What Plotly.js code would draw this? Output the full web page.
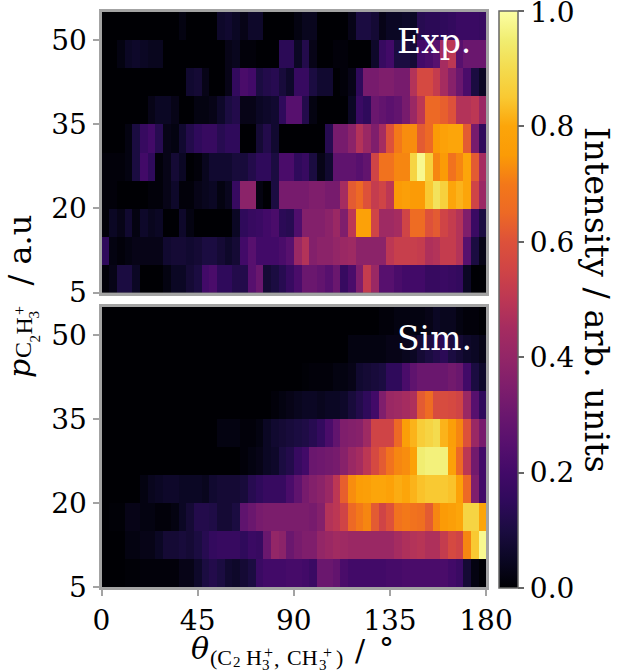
<!DOCTYPE html>
<html><head><meta charset="utf-8">
<script src="https://cdn.plot.ly/plotly-3.0.1.min.js"></script>
<style>html,body{margin:0;padding:0;background:#fff}#c{width:626px;height:672px}</style>
</head><body><div id="c"></div>
<script>
const thetaEdges = Array.from({length:51},(_,i)=>i*3.6);
const pEdges = [5,10,15,20,25,30,35,40,45,50,55];
const xTicks = [0,45,90,135,180];
const yTicks = [5,20,35,50];
const cbTicks = [0,0.2,0.4,0.6,0.8];
const cbLabels = ['0.0','0.2','0.4','0.6','0.8'];
const cbTopLabel = '1.0';
const expRow1 = [.01,.03,.1,.1,.05,0,0,0,.02,.05,.05,.08,.1,.2,.22,.15,.15,.12,.12,.25,.3,.08,.1,.13,.17,.22,.3,.3,.28,.25,.3,.17,.22,.35,.52,.42,.25,.25,.22,.2,.2,.2,.17,.17,.18,.17,.16,.05,0,0];
const expRow2 = [.15,.02,.01,.02,.03,.03,.03,.03,.07,.08,.08,.07,.08,.1,.1,.08,.06,.08,.2,.25,.2,.2,.2,.22,.25,.42,.48,.36,.38,.38,.4,.42,.43,.38,.38,.38,.38,.5,.53,.53,.53,.52,.47,.48,.52,.52,.48,.25,.1,.03];
const expRow3 = [.01,.05,.03,.07,.02,.06,.04,.05,0,0,.06,.02,0,0,0,0,0,.05,.15,.17,.18,.2,.22,.14,.13,.23,.36,.36,.36,.38,.42,.35,.5,.78,.78,.55,.43,.43,.45,.55,.66,.66,.6,.62,.55,.52,.48,.35,.18,.1];
const expRow4 = [.01,.01,0,0,0,0,.01,.01,.03,.06,.01,.01,.03,.04,.05,.02,.04,.17,.38,.38,.02,0,.1,.33,.33,.33,.33,.35,.35,.33,.33,.45,.62,.65,.6,.52,.55,.5,.75,.77,.75,.75,.85,.92,.87,.8,.82,.8,.55,.42];
const expRow5 = [.01,.01,.01,.02,.1,.2,.15,.01,.03,.08,.05,0,.01,.04,.07,.07,.07,.09,.09,.12,.15,.15,.1,.22,.22,.15,.17,.1,.03,.07,.27,.27,.27,.25,.28,.55,.68,.68,.72,.72,.88,.98,.87,.72,.75,.68,.72,.8,.62,.45];
const expRow6 = [0,0,0,.02,.1,.17,.2,.13,.03,.02,.07,.12,.15,.17,.17,.13,.15,.15,0,0,.08,.12,.07,0,0,0,0,0,0,.13,.33,.33,.38,.48,.42,.35,.45,.6,.7,.73,.73,.62,.65,.75,.78,.8,.8,.62,.33,.15];
const expRow7 = [0,0,0,0,0,0,.03,.05,.05,.03,0,0,.02,.02,.03,.06,.1,.12,.03,.03,.05,.06,.07,.15,.25,.25,.12,.02,0,0,0,0,.05,.18,.15,.3,.28,.26,.28,.33,.42,.5,.65,.65,.63,.6,.48,.48,.5,.42];
const expRow8 = [0,0,0,0,0,0,0,0,0,0,0,.07,.08,.03,0,0,.03,.16,.22,.2,.1,.12,.13,.09,.06,.17,.17,.1,.07,.07,0,.01,.03,.15,.33,.33,.35,.35,.33,.33,.48,.57,.57,.52,.45,.37,.3,.22,.1,.05];
const expRow9 = [0,0,.02,.05,.06,.05,.04,.04,0,0,0,0,0,0,0,0,.03,.04,.01,.01,0,0,0,.14,.14,.05,.12,.03,0,0,.01,.01,0,0,0,.06,.17,.2,.1,.1,.08,.2,.22,.25,.45,.5,.25,.3,.3,.3];
const expRow10 = [0,0,0,0,0,0,0,0,0,0,.02,0,0,0,0,.06,.07,.05,.03,.06,.06,0,0,0,0,.02,.04,.04,0,0,0,0,.03,.1,.1,.08,.03,.05,.05,.06,.05,.13,.14,.14,.15,.16,.18,.18,.18,.17];
const simRow1 = [0,0,0,.005,.005,.01,.01,.01,.01,.01,.03,.03,.06,.1,.12,.1,.07,.06,.08,.1,.18,.2,.2,.2,.21,.21,.2,.18,.3,.3,.28,.22,.2,.2,.2,.2,.2,.21,.21,.22,.22,.22,.22,.22,.22,.2,.18,.08,.02,0];
const simRow2 = [0,0,0,.02,.02,.03,.03,.05,.08,.08,.09,.08,.1,.13,.16,.17,.17,.17,.15,.18,.17,.3,.4,.38,.3,.33,.35,.35,.4,.42,.44,.43,.42,.42,.42,.42,.42,.42,.45,.47,.48,.49,.47,.47,.52,.57,.55,.72,.85,.98];
const simRow3 = [0,.005,.005,.03,.03,.02,.02,.01,.01,.02,.05,.08,.12,.12,.11,.08,.08,.1,.27,.3,.33,.34,.34,.34,.34,.34,.34,.33,.36,.48,.5,.55,.65,.7,.72,.62,.55,.6,.68,.7,.68,.67,.62,.72,.75,.77,.8,.88,.88,.8];
const simRow4 = [0,0,0,0,0,.02,.04,.05,.06,.06,.05,.05,.05,.04,.07,.08,.08,.08,.09,.13,.15,.17,.17,.17,.22,.27,.33,.36,.38,.42,.5,.63,.73,.76,.77,.8,.8,.78,.81,.8,.82,.84,.85,.85,.85,.84,.78,.65,.35,.2];
const simRow5 = [0,0,0,0,0,0,0,0,0,0,0,0,0,0,0,0,0,0,.01,.02,.03,.05,.06,.1,.12,.17,.2,.3,.31,.32,.33,.37,.42,.45,.5,.57,.62,.68,.72,.73,.78,.95,.96,.96,.96,.78,.65,.5,.32,.2];
const simRow6 = [0,0,0,0,0,0,0,0,0,0,0,0,0,0,0,.02,.02,.02,.01,.01,.02,.05,.07,.08,.09,.1,.11,.13,.16,.22,.28,.35,.36,.37,.43,.55,.55,.55,.65,.77,.82,.86,.88,.9,.82,.77,.72,.6,.42,.33];
const simRow7 = [0,0,0,0,0,0,0,0,0,0,0,0,0,0,0,0,0,0,0,0,0,0,.01,.02,.03,.04,.05,.05,.04,.05,.05,.06,.09,.12,.15,.2,.35,.42,.43,.45,.47,.62,.66,.58,.58,.57,.55,.42,.25,.15];
const simRow8 = [0,0,0,0,0,0,0,0,0,0,0,0,0,0,0,0,0,0,0,0,0,0,0,0,0,0,.005,.01,.01,.01,.02,.02,.03,.07,.08,.09,.1,.15,.15,.22,.27,.3,.3,.3,.3,.32,.3,.2,.1,.06];
const simRow9 = [0,0,0,0,0,0,0,0,0,0,0,0,0,0,0,0,0,0,0,0,0,0,0,0,0,0,0,0,0,0,0,0,.02,.02,.02,.02,.02,.03,.03,.04,.05,.08,.1,.12,.14,.1,.08,.06,.05,.03];
const simRow10 = [0,0,0,0,0,0,0,0,0,0,0,0,0,0,0,0,0,0,0,0,0,0,0,0,0,0,0,0,0,0,0,0,0,0,0,0,.01,.01,.02,.02,.02,.02,.03,.05,.04,.04,.02,.01,.01,0];
const zExp = [expRow1,expRow2,expRow3,expRow4,expRow5,expRow6,expRow7,expRow8,expRow9,expRow10];
const zSim = [simRow1,simRow2,simRow3,simRow4,simRow5,simRow6,simRow7,simRow8,simRow9,simRow10];

const infernoHex = ['#000004','#0b0724','#1b0c41','#2f0a5b','#420a68','#57106e','#6a176e','#7f1e6c','#932667','#a52c60','#bc3754','#cf4446','#dd513a','#ed6925','#f37819','#fb9b06','#fca50a','#f9c932','#f4db4e','#f1ed71','#fcffa4'];
const inferno = infernoHex.map((c,i)=>[i/(infernoHex.length-1),c]);

const W=626,H=672;
const PX=x=>x/W, PY=y=>1-y/H;
const SERIF='DejaVu Serif', TIMES='Liberation Serif';
const GREY='#a3a3a3';

function note(text,cx,cy,size,font,opts){
  return Object.assign({text:text,xref:'paper',yref:'paper',x:PX(cx),y:PY(cy),xanchor:'center',yanchor:'middle',
    showarrow:false,borderpad:0,font:{family:font,size:size,color:'#000'}},opts||{});
}
const annos = [
  note('Exp.',434,41,33,SERIF,{font:{family:SERIF,size:33,color:'#fff'}}),
  note('Sim.',434,338,33,SERIF,{font:{family:SERIF,size:33,color:'#fff'}}),
  note('Intensity / arb. units',597,300,33.5,SERIF,{textangle:90}),
  note(cbTopLabel,552.5,12,28,SERIF),
  // x title
  note('<i>θ</i>',200,648,30,SERIF),
  note('(C',221,657,22,TIMES),
  note('2',236.5,662,15,TIMES),
  note('H',253.5,657,22,TIMES),
  note('+',268,652,16,TIMES),
  note('3',266,665,15,TIMES),
  note(',',277,658,22,TIMES),
  note('CH',302,657,22,TIMES),
  note('+',327,652,16,TIMES),
  note('3',323,665,15,TIMES),
  note(')',339,657,22,TIMES),
  note('/',360,650,30,SERIF),
  note('°',386,648,30,SERIF),
  // y title
  note('<i>p</i>',19,369,30,SERIF,{textangle:-90}),
  note('C',23,350,24,TIMES,{textangle:-90}),
  note('2',34,338.5,15,TIMES,{textangle:-90}),
  note('H',23,326.5,24,TIMES,{textangle:-90}),
  note('+',19,311,16,TIMES,{textangle:-90}),
  note('3',34,314.5,15,TIMES,{textangle:-90}),
  note('/ a.u',19.5,250,32,SERIF,{textangle:-90})
];

const tickFont={family:SERIF,size:28,color:'#000'};
function xa(domainAnchor,labels){
  return {domain:[PX(101.5),PX(486)],range:[0,180],anchor:domainAnchor,tickmode:'array',tickvals:xTicks,ticktext:xTicks.map(String),
    showticklabels:labels,ticks:labels?'outside':'',ticklen:6,tickwidth:2,tickcolor:GREY,tickfont:tickFont,
    showline:true,mirror:true,linecolor:GREY,linewidth:3,showgrid:false,zeroline:false};
}
function ya(domainAnchor,top,bottom){
  return {domain:[PY(bottom),PY(top)],range:[5,55],anchor:domainAnchor,tickmode:'array',tickvals:yTicks,ticktext:yTicks.map(String),
    ticks:'outside',ticklen:6,tickwidth:2,tickcolor:GREY,tickfont:tickFont,
    showline:true,mirror:true,linecolor:GREY,linewidth:3,showgrid:false,zeroline:false};
}
const data=[
 {type:'heatmap',x:thetaEdges,y:pEdges,z:zExp,xaxis:'x',yaxis:'y',colorscale:inferno,zmin:0,zmax:1,zsmooth:false,showscale:false},
 {type:'heatmap',x:thetaEdges,y:pEdges,z:zSim,xaxis:'x2',yaxis:'y2',colorscale:inferno,zmin:0,zmax:1,zsmooth:false,showscale:true,
  colorbar:{x:PX(499),xanchor:'left',xpad:0,ypad:0,thickness:19,thicknessmode:'pixels',lenmode:'fraction',len:(588-11)/H,y:PY(588),yanchor:'bottom',
    tickmode:'array',tickvals:cbTicks,ticktext:cbLabels,ticks:'outside',ticklen:6,tickwidth:2,tickcolor:'#666',tickfont:tickFont,
    outlinecolor:'#666',outlinewidth:1.5}}
];
const layout={width:W,height:H,margin:{l:0,r:0,t:0,b:0},paper_bgcolor:'#fff',plot_bgcolor:'#000',showlegend:false,
 xaxis:xa('y',false),yaxis:ya('x',12,292.5),xaxis2:xa('y2',true),yaxis2:ya('x2',307,587),annotations:annos,
 shapes:[{type:'line',xref:'paper',yref:'paper',x0:PX(518),x1:PX(524),y0:PY(11),y1:PY(11),line:{color:'#666',width:2}}]};
Plotly.newPlot('c',data,layout,{displayModeBar:false,staticPlot:true});
</script></body></html>
